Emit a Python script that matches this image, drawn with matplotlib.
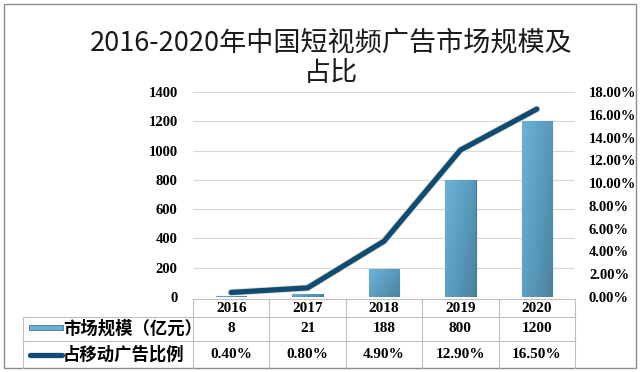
import matplotlib.pyplot as plt
import matplotlib.ticker as mticker
from matplotlib.patches import Rectangle
from matplotlib.lines import Line2D
from matplotlib.colors import LinearSegmentedColormap
import numpy as np

plt.rcParams['font.family'] = ['Noto Sans CJK SC', 'DejaVu Sans']

# data
years = ['2016', '2017', '2018', '2019', '2020']
market = [8, 21, 188, 800, 1200]
share = [0.40, 0.80, 4.90, 12.90, 16.50]
market_labels = ['8', '21', '188', '800', '1200']
share_labels = ['0.40%', '0.80%', '4.90%', '12.90%', '16.50%']
row_names = ['市场规模（亿元）', '占移动广告比例']
title = '2016-2020年中国短视频广告市场规模及\n占比'

W, H = 640, 372
fig = plt.figure(figsize=(6.4, 3.72), dpi=100)

def fx(px):
    return px / W

def fy(py):
    return 1 - py / H

# plot area in pixels: x 193-575, y 92-297
ax = fig.add_axes([fx(193), fy(297), fx(575) - fx(193), fy(92) - fy(297)])
ax2 = ax.twinx()

x = np.arange(len(years))
bar_color = '#5B9EC2'
line_color = '#0F4C75'
grid_color = '#D9D9D9'
num_font = 'Liberation Serif'
grad = LinearSegmentedColormap.from_list('g', ['#6DB2D6', '#5A9CBF', '#4B829C'])

bars = ax.bar(x, market, width=0.4, color=bar_color, edgecolor='#3E7A98', linewidth=0.8, zorder=3)
ax.set_xlim(-0.5, len(years) - 0.5)
ax.set_ylim(0, 1400)
# gradient fill clipped to each bar
gx, gy = np.meshgrid(np.linspace(0, 1, 30), np.linspace(0, 1, 60))
gimg = 0.6 * gx + 0.4 * gy
for b in bars:
    im = ax.imshow(gimg, cmap=grad, extent=[b.get_x(), b.get_x() + b.get_width(), 0, b.get_height()],
                   aspect='auto', origin='upper', zorder=3.1)
    im.set_clip_path(b)
ax.set_xlim(-0.5, len(years) - 0.5)
ax.set_ylim(0, 1400)
ax.set_yticks(range(0, 1401, 200))
ax.grid(axis='y', color=grid_color, linewidth=0.8, zorder=0)
ax.set_xticks([])
for s in ax.spines.values():
    s.set_visible(False)
ax.tick_params(axis='y', length=0, pad=11)
for lab in ax.get_yticklabels():
    lab.set_fontfamily(num_font)
    lab.set_fontweight('bold')
    lab.set_fontsize(10.5)

ax2.plot(x, np.array(share) / 100, color='#E8E2C8', linewidth=5.2, solid_capstyle='round', zorder=3)
ax2.plot(x, np.array(share) / 100, color=line_color, linewidth=3.8, solid_capstyle='round', zorder=4)
ax2.set_ylim(0, 0.18)
ax2.set_yticks(np.arange(0, 0.181, 0.02))
ax2.yaxis.set_major_formatter(mticker.FuncFormatter(lambda v, p: '%.2f%%' % (v * 100)))
for s in ax2.spines.values():
    s.set_visible(False)
ax2.tick_params(axis='y', length=0, pad=10)
for lab in ax2.get_yticklabels():
    lab.set_fontfamily(num_font)
    lab.set_fontweight('bold')
    lab.set_fontsize(10.5)

# data table under the chart
tcol = '#BFBFBF'
rows_px = [299, 317, 341, 368]
xs_px = [193 + i * (575 - 193) / len(years) for i in range(len(years) + 1)]
for yp in rows_px[:-1]:
    x0 = 193 if yp == rows_px[0] else 23
    fig.add_artist(Line2D([fx(x0), fx(575)], [fy(yp), fy(yp)], transform=fig.transFigure, color=tcol, lw=0.8))
for xp in xs_px:
    fig.add_artist(Line2D([fx(xp), fx(xp)], [fy(rows_px[0]), fy(rows_px[-1])], transform=fig.transFigure, color=tcol, lw=0.8))
fig.add_artist(Line2D([fx(23), fx(23)], [fy(rows_px[1]), fy(rows_px[-1])], transform=fig.transFigure, color=tcol, lw=0.8))

for i in range(len(years)):
    cx = fx((xs_px[i] + xs_px[i + 1]) / 2)
    for j, txt in enumerate([years[i], market_labels[i], share_labels[i]]):
        cy = fy((rows_px[j] + rows_px[j + 1]) / 2)
        fig.text(cx, cy, txt, ha='center', va='center', fontsize=11,
                 fontfamily=num_font, fontweight='bold')

# row labels with legend keys
fig.add_artist(Rectangle((fx(29), fy(330)), fx(63) - fx(29), fy(325) - fy(330),
                         transform=fig.transFigure, facecolor='#6AAED2', edgecolor='#3E7A98', lw=0.6))
fig.add_artist(Line2D([fx(30), fx(62)], [fy(355), fy(355)], transform=fig.transFigure,
                      color=line_color, lw=3.8, solid_capstyle='round'))
for j, name in enumerate(row_names):
    cy = fy((rows_px[j + 1] + rows_px[j + 2]) / 2)
    fig.text(fx(63), cy, name, ha='left', va='center', fontsize=12.5, fontweight='bold')

# title
fig.text(fx(331), fy(58), title, ha='center', va='center', fontsize=19.5,
         linespacing=1.15, color='#1a1a1a')

# outer border
fig.add_artist(Rectangle((fx(4), fy(368)), fx(636) - fx(4), fy(4) - fy(368),
                         transform=fig.transFigure, fill=False, edgecolor='#8C8C8C', lw=1))

fig.savefig('out.png', dpi=100)
